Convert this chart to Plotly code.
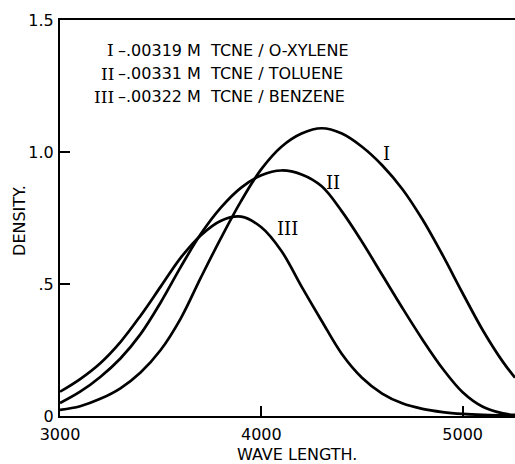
import plotly.graph_objects as go

wl = [3000, 3100, 3200, 3300, 3400, 3500, 3600, 3700, 3800, 3900, 4000, 4100, 4200,
      4300, 4400, 4500, 4600, 4700, 4800, 4900, 5000, 5100, 5200, 5260]

# Curve I: .00319 M TCNE / o-xylene
den_1 = [0.023, 0.037, 0.065, 0.105, 0.165, 0.25, 0.37, 0.525, 0.675, 0.815, 0.935, 1.02, 1.07,
         1.09, 1.07, 1.02, 0.95, 0.86, 0.745, 0.61, 0.465, 0.325, 0.205, 0.145]

# Curve II: .00331 M TCNE / toluene
den_2 = [0.049, 0.092, 0.148, 0.218, 0.31, 0.43, 0.565, 0.69, 0.79, 0.865, 0.912, 0.93, 0.915,
         0.87, 0.775, 0.66, 0.535, 0.41, 0.29, 0.18, 0.09, 0.035, 0.01, 0.004]

# Curve III: .00322 M TCNE / benzene
den_3 = [0.092, 0.14, 0.20, 0.28, 0.38, 0.49, 0.60, 0.685, 0.74, 0.755, 0.715, 0.625, 0.49,
         0.36, 0.235, 0.145, 0.085, 0.048, 0.027, 0.015, 0.008, 0.004, 0.002, 0.001]

numerals = ["I", "II", "III"]
legend_texts = ["–.00319 M  TCNE / O-XYLENE", "–.00331 M  TCNE / TOLUENE", "–.00322 M  TCNE / BENZENE"]

# curve label positions (data coords)
label_x = [4623, 4357, 4128]
label_y = [0.996, 0.883, 0.712]

x_tickvals = [3000, 4000, 5000]
x_ticktext = ["3000", "4000", "5000"]
y_tickvals = [0, 0.5, 1.0, 1.5]
y_ticktext = ["0", ".5", "1.0", "1.5"]

FONT = "DejaVu Sans"
SERIF = "DejaVu Serif"

fig = go.Figure()
for den in [den_1, den_2, den_3]:
    fig.add_trace(go.Scatter(x=wl, y=den, mode="lines",
                             line=dict(color="black", width=2.7, shape="spline", smoothing=1.0),
                             showlegend=False, hoverinfo="skip"))

annotations = []
# legend block
leg_y = [0.924, 0.864, 0.806]
for num, txt, yy in zip(numerals, legend_texts, leg_y):
    annotations.append(dict(xref="paper", yref="paper", x=0.124, y=yy, text=num,
                            showarrow=False, xanchor="right", yanchor="middle",
                            font=dict(family=SERIF, size=17, color="black")))
    annotations.append(dict(xref="paper", yref="paper", x=0.124, y=yy, text=txt,
                            showarrow=False, xanchor="left", yanchor="middle",
                            font=dict(family=FONT, size=16, color="black")))
# curve labels
for num, lx, ly in zip(numerals, label_x, label_y):
    annotations.append(dict(x=lx, y=ly, text=num, showarrow=False,
                            xanchor="center", yanchor="middle",
                            font=dict(family=SERIF, size=18, color="black")))
# axis titles
annotations.append(dict(xref="paper", yref="paper", x=0.521, y=-0.096, text="WAVE LENGTH.",
                        showarrow=False, xanchor="center", yanchor="middle",
                        font=dict(family=FONT, size=16, color="black")))
annotations.append(dict(xref="paper", yref="paper", x=-0.088, y=0.495, text="DENSITY.",
                        showarrow=False, xanchor="center", yanchor="middle", textangle=-90,
                        font=dict(family=FONT, size=16, color="black")))

fig.update_layout(
    width=515, height=464,
    margin=dict(l=60, r=0, t=20, b=48),
    paper_bgcolor="white", plot_bgcolor="white",
    annotations=annotations,
    xaxis=dict(range=[3000, 5260], tickvals=x_tickvals, ticktext=x_ticktext,
               ticks="inside", ticklen=10, tickwidth=1.5, tickcolor="black",
               showline=True, linecolor="black", linewidth=2, mirror=True,
               showgrid=False, zeroline=False, ticklabelstandoff=3,
               tickfont=dict(family=FONT, size=16, color="black")),
    yaxis=dict(range=[0, 1.5], tickvals=y_tickvals, ticktext=y_ticktext,
               ticks="inside", ticklen=10, tickwidth=1.5, tickcolor="black",
               showline=True, linecolor="black", linewidth=2,
               showgrid=False, zeroline=False, ticklabelstandoff=1,
               tickfont=dict(family=FONT, size=16, color="black")),
)

fig.write_html("out.html")
